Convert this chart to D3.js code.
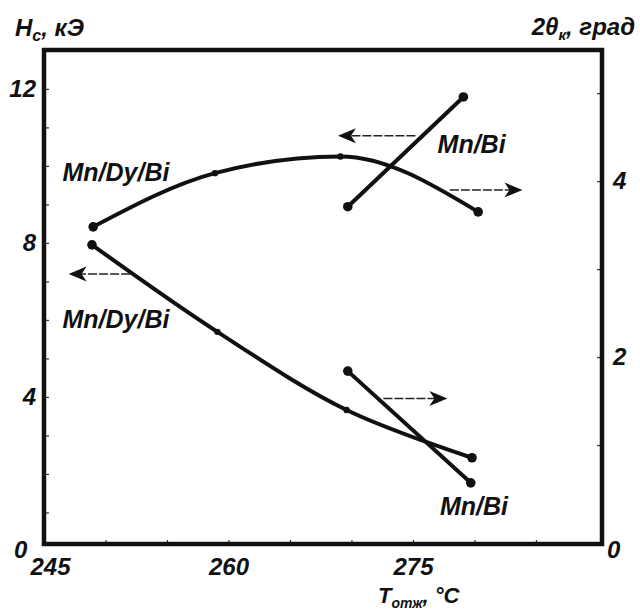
<!DOCTYPE html>
<html>
<head>
<meta charset="utf-8">
<script src="https://cdn.jsdelivr.net/npm/d3@7"></script>
<style>
  body { margin: 0; background: #fff; }
  text { font-family: "Liberation Sans", Arial, sans-serif; font-style: italic; fill: #111; }
</style>
</head>
<body>
<div id="chart"></div>
<script>
// Data
// upper curve: Mn/Dy/Bi, 2θк (right axis)
const mnDyBiAngleT = [249.0, 258.9, 269.1, 280.3];
const mnDyBiAngle  = [3.48, 4.09, 4.28, 3.65];
// upper line: Mn/Bi, Hc (left axis)
const mnBiHcT = [269.7, 279.1];
const mnBiHc  = [8.94, 11.79];
// lower curve: Mn/Dy/Bi, Hc (left axis)
const mnDyBiHcT = [248.9, 259.1, 269.6, 279.8];
const mnDyBiHc  = [7.95, 5.69, 3.66, 2.42];
// lower line: Mn/Bi, 2θк (right axis)
const mnBiAngleT = [269.7, 279.7];
const mnBiAngle  = [1.84, 0.57];

// arrows pointing to the axis each curve belongs to
const arrowFrom  = [275.2, 278.0, 252.0, 272.6];
const arrowTo    = [268.9, 283.9, 247.0, 277.8];
const arrowLevel = [10.78, 3.90, 7.19, 1.53];
const arrowAxis  = ["left", "right", "left", "right"];

// curve labels (T of left edge, Hc of baseline)
const labelText  = ["Mn/Dy/Bi", "Mn/Bi", "Mn/Dy/Bi", "Mn/Bi"];
const labelT     = [246.5, 277.0, 246.5, 277.2];
const labelLevel = [9.61, 10.34, 5.79, 0.94];

const xTickLabels = [245, 260, 275];
const xMinorTicks = d3.range(250, 290, 5);
const leftTickLabels = [4, 8, 12];
const leftMinorTicks = d3.range(1, 13, 1);
const rightTickLabels = [2, 4];
const rightMinorTicks = [1, 2, 3, 4, 5];

// Dimensions
const width = 640, height = 613;
const frame = {left: 44, right: 602, top: 50, bottom: 544};

const svg = d3.select("#chart").append("svg")
  .attr("width", width).attr("height", height);

// Scales
const x = d3.scaleLinear().domain([245, 290.37]).range([frame.left, frame.right]);
const yL = d3.scaleLinear().domain([0.18, 13.01]).range([frame.bottom, frame.top]);
const yR = d3.scaleLinear().domain([-0.125, 5.49]).range([frame.bottom, frame.top]);

// minor ticks inside the frame
svg.append("g").attr("transform", "translate(" + frame.left + ",0)")
  .call(d3.axisRight(yL).tickValues(leftMinorTicks).tickSize(5).tickFormat(""))
  .call(g => g.select(".domain").remove())
  .selectAll("line").attr("stroke", "#333").attr("stroke-width", 1.2);
svg.append("g").attr("transform", "translate(" + frame.right + ",0)")
  .call(d3.axisLeft(yR).tickValues(rightMinorTicks).tickSize(5).tickFormat(""))
  .call(g => g.select(".domain").remove())
  .selectAll("line").attr("stroke", "#333").attr("stroke-width", 1.2);
svg.append("g").attr("transform", "translate(0," + frame.bottom + ")")
  .call(d3.axisTop(x).tickValues(xMinorTicks).tickSize(4).tickFormat(""))
  .call(g => g.select(".domain").remove())
  .selectAll("line").attr("stroke", "#333").attr("stroke-width", 1.2);

// tick labels
svg.append("g").attr("transform", "translate(" + frame.left + ",0)")
  .call(d3.axisLeft(yL).tickValues(leftTickLabels).tickSize(0).tickPadding(8).tickFormat(d3.format("d")))
  .call(g => g.select(".domain").remove())
  .selectAll("text").attr("font-size", 24).attr("font-weight", "bold");
svg.append("g").attr("transform", "translate(" + frame.right + ",0)")
  .call(d3.axisRight(yR).tickValues(rightTickLabels).tickSize(0).tickPadding(11).tickFormat(d3.format("d")))
  .call(g => g.select(".domain").remove())
  .selectAll("text").attr("font-size", 24).attr("font-weight", "bold");
const xl = svg.append("g").attr("transform", "translate(0," + frame.bottom + ")")
  .call(d3.axisBottom(x).tickValues(xTickLabels).tickSize(0).tickPadding(14).tickFormat(d3.format("d")))
  .call(g => g.select(".domain").remove());
xl.selectAll("text").attr("font-size", 24).attr("font-weight", "bold")
  .attr("dx", (d, i) => i === 0 ? 6 : 0);
svg.selectAll(".tick text").attr("font-family", null);

// corner zeros
svg.append("text").attr("x", frame.left - 30).attr("y", frame.bottom + 14)
  .attr("font-size", 24).attr("font-weight", "bold").text("0");
svg.append("text").attr("x", frame.right + 5).attr("y", frame.bottom + 14)
  .attr("font-size", 24).attr("font-weight", "bold").text("0");

// frame
svg.append("rect")
  .attr("x", frame.left).attr("y", frame.top)
  .attr("width", frame.right - frame.left).attr("height", frame.bottom - frame.top)
  .attr("fill", "none").attr("stroke", "#111").attr("stroke-width", 4.5);

// axis titles
const tl = svg.append("text").attr("x", 15).attr("y", 36).attr("font-size", 24).attr("font-weight", "bold");
tl.append("tspan").text("H");
tl.append("tspan").attr("font-size", 16).attr("dy", 5).text("c");
tl.append("tspan").attr("dy", -5).text(", кЭ");

const tr = svg.append("text").attr("x", 635).attr("y", 35).attr("text-anchor", "end")
  .attr("font-size", 24).attr("font-weight", "bold");
tr.append("tspan").text("2θ");
tr.append("tspan").attr("font-size", 15).attr("dy", 5).text("к");
tr.append("tspan").attr("dy", -5).text(", град");

const bt = svg.append("text").attr("x", 378).attr("y", 603).attr("font-size", 22).attr("font-weight", "bold");
bt.append("tspan").text("T");
bt.append("tspan").attr("font-size", 14).attr("dy", 5).text("отж");
bt.append("tspan").attr("dy", -5).text(", °C");

// series
const series = [
  {t: mnDyBiAngleT, v: mnDyBiAngle, y: yR, curve: d3.curveMonotoneX},
  {t: mnBiHcT, v: mnBiHc, y: yL, curve: d3.curveLinear},
  {t: mnDyBiHcT, v: mnDyBiHc, y: yL, curve: d3.curveCatmullRom},
  {t: mnBiAngleT, v: mnBiAngle, y: yR, curve: d3.curveLinear}
];

series.forEach(s => {
  const pts = s.t.map((t, i) => [x(t), s.y(s.v[i])]);
  svg.append("path")
    .attr("d", d3.line().curve(s.curve)(pts))
    .attr("fill", "none").attr("stroke", "#111").attr("stroke-width", 4)
    .attr("stroke-linecap", "round");
  svg.selectAll(null).data(pts).enter().append("circle")
    .attr("cx", d => d[0]).attr("cy", d => d[1])
    .attr("r", (d, i) => (i === 0 || i === pts.length - 1) ? 4.8 : 3.2)
    .attr("fill", "#111");
});

// arrows
arrowFrom.forEach((f, i) => {
  const sy = arrowAxis[i] === "left" ? yL : yR;
  const y0 = sy(arrowLevel[i]);
  const x0 = x(f), x1 = x(arrowTo[i]);
  const dir = x1 > x0 ? 1 : -1;
  svg.append("line")
    .attr("x1", x0).attr("y1", y0).attr("x2", x1 - dir * 12).attr("y2", y0)
    .attr("stroke", "#222").attr("stroke-width", 1.5).attr("stroke-dasharray", "9,2");
  const head = d3.path();
  head.moveTo(x1, y0);
  head.lineTo(x1 - dir * 18, y0 - 7.5);
  head.lineTo(x1 - dir * 13, y0);
  head.lineTo(x1 - dir * 18, y0 + 7.5);
  head.closePath();
  svg.append("path").attr("d", head.toString()).attr("fill", "#111");
});

// curve labels
svg.selectAll(null).data(labelText).enter().append("text")
  .attr("x", (d, i) => x(labelT[i]))
  .attr("y", (d, i) => yL(labelLevel[i]))
  .attr("font-size", 25).attr("font-weight", "bold")
  .text(d => d);
</script>
</body>
</html>
